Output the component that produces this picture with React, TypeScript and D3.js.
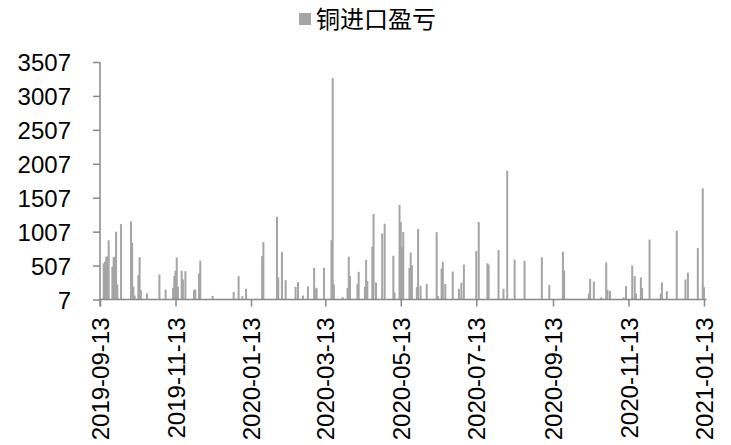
import * as d3 from 'd3';
import React from 'react';

// copper import profit/loss, daily (trading days with a visible bar)
const tradeDates = [
  '2019-09-16', '2019-09-17', '2019-09-18', '2019-09-19', '2019-09-20', '2019-09-23', '2019-09-24', '2019-09-25', '2019-09-26', '2019-09-27', '2019-09-30',
  '2019-10-08', '2019-10-09', '2019-10-10', '2019-10-11', '2019-10-14', '2019-10-15', '2019-10-16', '2019-10-21', '2019-10-31',
  '2019-11-05', '2019-11-11', '2019-11-12', '2019-11-13', '2019-11-14', '2019-11-15', '2019-11-18', '2019-11-19', '2019-11-21', '2019-11-28', '2019-11-29',
  '2019-12-02', '2019-12-03', '2019-12-13', '2019-12-30',
  '2020-01-03', '2020-01-06', '2020-01-09', '2020-01-22', '2020-01-23',
  '2020-02-03', '2020-02-04', '2020-02-07', '2020-02-10', '2020-02-18', '2020-02-20', '2020-02-24', '2020-02-28',
  '2020-03-04', '2020-03-05', '2020-03-06', '2020-03-12', '2020-03-18', '2020-03-19', '2020-03-20', '2020-03-27', '2020-03-31',
  '2020-04-01', '2020-04-02', '2020-04-08', '2020-04-09', '2020-04-14', '2020-04-15', '2020-04-16', '2020-04-20', '2020-04-21', '2020-04-23', '2020-04-28', '2020-04-30',
  '2020-05-07', '2020-05-08', '2020-05-12', '2020-05-13', '2020-05-14', '2020-05-15', '2020-05-20', '2020-05-21', '2020-05-22', '2020-05-26', '2020-05-27', '2020-05-29',
  '2020-06-03', '2020-06-11', '2020-06-12', '2020-06-15', '2020-06-16', '2020-06-18', '2020-06-24', '2020-06-29',
  '2020-07-01', '2020-07-03', '2020-07-13', '2020-07-15', '2020-07-22', '2020-07-23', '2020-07-31',
  '2020-08-04', '2020-08-07', '2020-08-13', '2020-08-21',
  '2020-09-04', '2020-09-10', '2020-09-21', '2020-09-22',
  '2020-10-12', '2020-10-13', '2020-10-16', '2020-10-22', '2020-10-26', '2020-10-27', '2020-10-29',
  '2020-11-09', '2020-11-11', '2020-11-16', '2020-11-18', '2020-11-19', '2020-11-23', '2020-11-24', '2020-11-30',
  '2020-12-09', '2020-12-10', '2020-12-14', '2020-12-22', '2020-12-29', '2020-12-31',
  '2021-01-08', '2021-01-12', '2021-01-13',
];

const profit = [
  540, 565, 637, 640, 880, 490, 630, 640, 1005, 230, 1118,
  1158, 843, 194, 66, 366, 632, 145, 96, 376,
  155, 179, 351, 430, 627, 194, 430, 300, 425, 145, 155,
  391, 578, 60, 120,
  351, 56, 165, 647, 853,
  1227, 332, 706, 292, 194, 263, 66, 200,
  474, 160, 179, 474, 880, 3270, 228, 41, 179,
  637, 351, 233, 415, 194, 593, 278, 784, 1267, 258, 981, 1124,
  651, 110, 1400, 1150, 775, 1000, 470, 700, 510, 190, 1045, 210,
  235, 1000, 60, 465, 565, 235, 420, 165,
  255, 520, 720, 1150, 540, 520, 735,
  165, 1905, 597, 578,
  630, 220, 710, 435,
  96, 310, 270, 40, 553, 150, 135,
  37, 204, 509, 351, 96, 332, 174, 890,
  90, 260, 130, 1020, 302, 401,
  765, 1645, 190,
];

const yTicks = [7, 507, 1007, 1507, 2007, 2507, 3007, 3507];
const xTickDates = [
  '2019-09-13', '2019-11-13', '2020-01-13', '2020-03-13', '2020-05-13',
  '2020-07-13', '2020-09-13', '2020-11-13', '2021-01-13',
];
const seriesName = '铜进口盈亏';

const W = 731;
const H = 445;
const barColor = '#a5a5a5';
const axisColor = '#898989';
const latin = '"Liberation Sans", Arial, sans-serif';

export default function App() {
  const ref = React.useRef<SVGSVGElement>(null);

  React.useEffect(() => {
    document.body.style.margin = '0';
    if (!ref.current) return;
    const svg = d3.select(ref.current);
    svg.selectAll('*').remove();

    const parse = d3.utcParse('%Y-%m-%d');
    const data = tradeDates.map((d, i) => ({ date: parse(d) as Date, v: profit[i] }));

    const x = d3
      .scaleUtc()
      .domain([parse('2019-09-13') as Date, parse('2021-01-13') as Date])
      .range([100, 704]);
    const y = d3.scaleLinear().domain([7, 3507]).range([299.5, 62]);
    const bw = 2;

    // bars
    svg
      .append('g')
      .selectAll('rect')
      .data(data)
      .enter()
      .append('rect')
      .attr('x', (d) => x(d.date) - bw / 2)
      .attr('width', bw)
      .attr('y', (d) => Math.min(y(d.v), y(7)))
      .attr('height', (d) => Math.abs(y(7) - y(d.v)))
      .attr('fill', barColor);

    // y axis
    const yAxis = svg
      .append('g')
      .attr('transform', 'translate(100,0)')
      .call(d3.axisLeft(y).tickValues(yTicks).tickSize(7).tickPadding(22).tickFormat(d3.format('d')));
    yAxis.select('.domain').attr('stroke', axisColor).attr('stroke-width', 1.5).attr('d', `M0,${y(3507)}V${y(7) + 7}`);
    yAxis.selectAll('.tick line').attr('stroke', axisColor).attr('stroke-width', 1.5);
    yAxis
      .selectAll('.tick text')
      .attr('font-family', latin)
      .attr('font-size', 24)
      .attr('fill', '#000')
      .attr('dy', '0.36em');

    // x axis
    const xAxis = svg
      .append('g')
      .attr('transform', `translate(0,${y(7)})`)
      .call(
        d3
          .axisBottom(x)
          .tickValues(xTickDates.map((d) => parse(d) as Date))
          .tickSize(7)
          .tickFormat(d3.utcFormat('%Y-%m-%d') as any),
      );
    xAxis.select('.domain').attr('stroke', axisColor).attr('stroke-width', 1.5).attr('d', 'M100,0H706.5');
    xAxis.selectAll('.tick line').attr('stroke', axisColor).attr('stroke-width', 1.5);
    xAxis
      .selectAll('.tick text')
      .attr('font-family', latin)
      .attr('font-size', 24)
      .attr('fill', '#000')
      .attr('text-anchor', 'end')
      .attr('transform', 'rotate(-90)')
      .attr('x', -18)
      .attr('y', 0)
      .attr('dy', '0.36em');

    // legend
    const lg = svg.append('g');
    lg.append('rect').attr('x', 299).attr('y', 13).attr('width', 12).attr('height', 12).attr('fill', barColor);
    lg.append('text')
      .attr('x', 316)
      .attr('y', 19)
      .attr('dy', '0.36em')
      .attr('font-family', '"Noto Sans CJK SC", sans-serif')
      .attr('font-size', 24)
      .attr('fill', '#000')
      .text(seriesName);
  }, []);

  return <svg ref={ref} width={W} height={H} style={{ display: 'block', background: '#fff' }} />;
}
